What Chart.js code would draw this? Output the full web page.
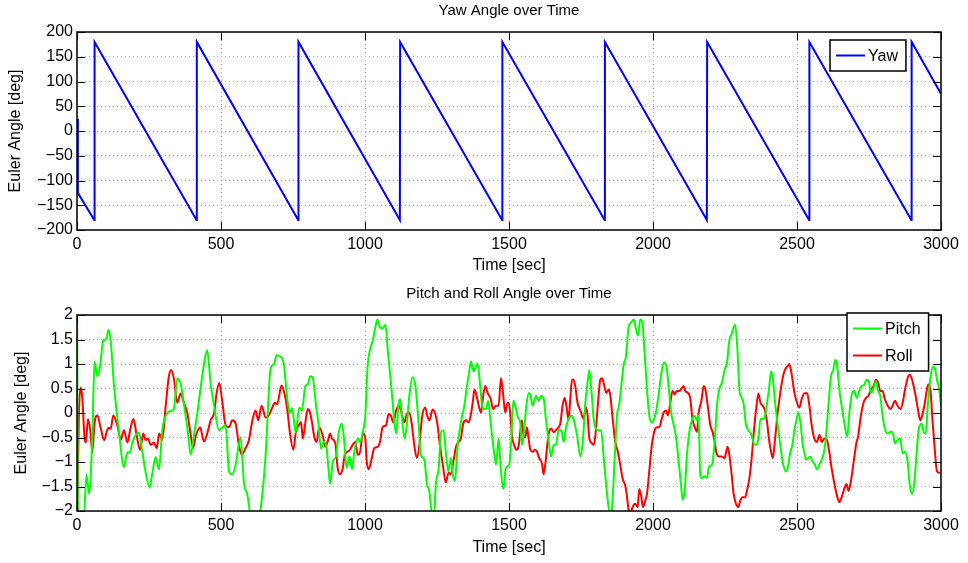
<!DOCTYPE html>
<html>
<head>
<meta charset="utf-8">
<script src="https://cdn.jsdelivr.net/npm/chart.js@4.4.1/dist/chart.umd.min.js"></script>
<style>
  html, body { margin: 0; padding: 0; background: #fff; }
  canvas { display: block; }
</style>
</head>
<body>
<canvas id="yawChart" width="968" height="282"></canvas>
<canvas id="attChart" width="968" height="281"></canvas>
<script>
// ---- data ----
const yawTime = [0, 3, 60, 61, 415, 416, 768, 769, 1121, 1122, 1476, 1477,
  1832, 1833, 2187, 2188, 2542, 2543, 2897, 2898, 3000];
const yawValue = [25, -125, -180, 180, -180, 180, -180, 180, -180, 180, -180, 180,
  -180, 180, -180, 180, -180, 180, -180, 180, 75];

const pitchTime = [
  0, 4, 13, 24, 33, 42, 53, 61, 71, 80,
  91, 100, 110, 117, 128, 146, 163, 175, 184, 192,
  204, 215, 227, 238, 252, 261, 273, 285, 296, 314,
  331, 337, 348, 360, 371, 383, 395, 406, 418, 429,
  441, 452, 464, 476, 493, 504, 516, 528, 539, 551,
  568, 580, 591, 600, 620, 637, 655, 672, 684, 693,
  707, 718, 730, 739, 747, 759,
  772, 781, 793, 801, 810, 818, 830, 839, 847, 857,
  865, 874, 879, 888, 899, 909, 920, 928, 936, 946,
  955, 963, 975, 983, 992, 1001, 1009, 1017, 1027, 1036,
  1043, 1052, 1061, 1071, 1079, 1088, 1096, 1108, 1117, 1123,
  1128, 1137, 1145, 1154, 1165, 1175, 1186, 1194, 1206, 1215,
  1223, 1233, 1240, 1246, 1256, 1264, 1273, 1281, 1289, 1299,
  1304, 1312, 1322, 1333, 1345, 1354, 1362, 1368, 1377, 1385,
  1391, 1399, 1408, 1420, 1428, 1437, 1445, 1455, 1464, 1472,
  1481, 1489, 1501,
  1508, 1515, 1522, 1531, 1539, 1545, 1551, 1559, 1568, 1574,
  1582, 1594, 1603, 1612, 1620, 1628, 1638, 1646, 1655, 1663,
  1672, 1682, 1690, 1698, 1707, 1716, 1724, 1736, 1748, 1756,
  1765, 1774, 1779, 1786, 1794, 1802, 1811, 1820, 1829, 1837,
  1846, 1852, 1858, 1867, 1875, 1883, 1892, 1899, 1906, 1915,
  1925, 1933, 1941, 1948, 1956, 1962, 1971, 1979, 1987, 1994,
  2002, 2010, 2019, 2029, 2038, 2047, 2054, 2063, 2072, 2080,
  2089, 2097, 2103, 2110, 2118, 2126, 2135, 2144, 2153, 2158,
  2164, 2170, 2179, 2187, 2195, 2205, 2214, 2222, 2230, 2239,
  2249, 2257,
  2265, 2273, 2280, 2285, 2292, 2300, 2308, 2315, 2323, 2331,
  2340, 2350, 2358, 2366, 2373, 2381, 2389, 2396, 2404, 2410,
  2416, 2424, 2433, 2442, 2450, 2462, 2468, 2476, 2484, 2491,
  2498, 2505, 2512, 2520, 2525, 2531, 2539, 2546, 2554, 2562,
  2569, 2578, 2586, 2593, 2601, 2609, 2618, 2626, 2633, 2639,
  2647, 2655, 2664, 2674, 2682, 2690, 2699, 2707, 2716, 2724,
  2734, 2741, 2748, 2757, 2766, 2774, 2782, 2789, 2797, 2805,
  2815, 2824, 2832, 2840, 2849, 2858, 2867, 2875, 2884, 2892,
  2900, 2907, 2915, 2923, 2933, 2940, 2947, 2954, 2962, 2971,
  2979, 2986, 2994, 3000
];
const pitchValue = [
  2.6, -2.3, -2.1, -2.1, -1.25, -1.65, -0.5, 1.05, 0.75, 0.95,
  1.48, 1.5, 1.7, 1.48, 0.6, -0.4, -1.1, -0.8, -0.8, -0.6,
  -0.45, -0.4, -0.8, -1.2, -1.52, -1.25, -0.9, -1.15, -0.35, 0,
  0.05, 0.1, 0.7, 0.6, 0.2, -0.3, -0.85, -0.45, 0, 0.5,
  1.0, 1.28, 0.6, 0.15, -0.35, -0.3, -0.25, -1.2, -1.25, -1.05,
  -0.5, -1.45, -1.65, -2.0, -2.5, -2.0, -0.85, 0.9, 1.0, 1.18,
  1.15, 1.0, 0.3, 0, 0.1, -0.4,
  0.11, 0.05, 0.55, 0.58, 0.75, 0.73, 0.15, -0.25, -0.72, -0.59,
  -0.65, -1.19, -1.45, -0.99, -0.89, -0.39, -0.22, -0.59, -1.12, -0.89,
  -1.15, -0.79, -0.52, -0.59, -0.39, -0.05, 0.95, 1.28, 1.48, 1.75,
  1.91, 1.75, 1.73, 1.8, 1.28, 0.75, 0.21, -0.42, 0.21, 0.28,
  -0.05, -0.52, -0.25, 0.35, 0.73, 0.55, -0.19, -0.85, -0.95, -1.45,
  -1.59, -2.05, -2.05, -1.45, -1.12, -0.39, -0.35, -0.82, -1.19, -0.92,
  -1.22, -1.39, -0.65, -0.19, 0.15, 0.55, 0.85, 1.05, 0.85, 0.95,
  1.01, 0.61, 0.11, 0.08, 0.25, -0.25, -0.65, -1.05, -0.52, -1.19,
  -1.55, -1.12, -1.05,
  -0.52, 0.25, 0.15, -0.09, -0.19, -0.65, -0.45, 0.08, 0.41, 0.38,
  0.15, 0.35, 0.25, 0.35, 0.31, -0.12, -0.59, -0.89, -0.65, -0.65,
  -0.35, -0.35, -0.59, -0.29, -0.12, -0.05, -0.12, -0.45, -0.89, -0.59,
  0.21, 0.68, 0.88, 0.48, -0.12, -0.32, -0.35, -0.35, -0.92, -1.45,
  -1.92, -2.1, -1.92, -0.92, -0.05, 0.18, 0.68, 1.01, 1.15, 1.75,
  1.85, 1.91, 1.71, 1.58, 1.91, 1.88, 1.21, 0.48, -0.05, -0.19,
  -0.15, 0.01, 0.35, 0.81, 1.03, 0.95, 0.55, 0.01, -0.25, -0.49,
  -0.99, -1.45, -1.77, -1.59, -0.85, -0.39, -0.15, -0.05, -0.15, -0.05,
  -1.25, -1.33, -1.29, -1.32, -1.09, -1.05, -0.59, 0.15, 0.48, 0.61,
  0.88, 1.03,
  1.48, 1.61, 1.75, 1.8, 1.41, 0.48, 0.31, 0.18, -0.25, -0.35,
  -0.42, -0.62, -0.65, -0.52, -0.12, -0.12, -0.05, 0.21, 0.55, 0.85,
  0.71, 0.21, -0.25, -0.65, -0.99, -1.19, -1.12, -0.82, -0.65, -0.35,
  -0.15, 0.01, -0.19, -0.65, -0.79, -0.95, -0.92, -0.89, -0.99, -1.05,
  -1.15, -1.05, -0.95, -0.82, -0.45, 0.15, 0.75, 0.88, 1.08, 1.01,
  0.48, 0.15, -0.19, -0.49, 0.01, 0.38, 0.45, 0.31, 0.45, 0.55,
  0.58, 0.68, 0.67, 0.41, 0.51, 0.65, 0.45, 0.35, -0.05, -0.32,
  -0.42, -0.39, -0.39, -0.62, -0.55, -0.52, -0.82, -0.79, -0.99, -1.49,
  -1.65, -1.45, -0.85, -0.32, -0.22, -0.39, -0.42, 0.15, 0.65, 0.95,
  0.91, 0.68, 0.48, 0.15
];

const rollTime = [
  0, 6, 12, 18, 27, 31, 38, 47, 53, 61,
  71, 82, 94, 105, 111, 117, 126, 140, 152, 163,
  175, 186, 196, 207, 219, 230, 238, 246, 256, 267,
  277, 285, 296, 308, 319, 327, 337, 348, 360, 371,
  383, 395, 403, 412, 427, 441, 452, 464, 476, 485,
  494, 504, 516, 528, 539, 551, 562, 572, 585, 597,
  609, 620, 629, 641, 655, 666, 678, 687, 695, 710,
  721, 730, 739, 751,
  760, 770, 778, 784, 793, 801, 809, 816, 824, 832,
  841, 853, 862, 870, 879, 885, 897, 905, 913, 922,
  930, 939, 948, 957, 966, 975, 983, 990, 994, 1001,
  1006, 1013, 1021, 1032, 1044, 1052, 1061, 1073, 1082, 1090,
  1098, 1108, 1117, 1125, 1137, 1145, 1154, 1163, 1171, 1180,
  1189, 1198, 1209, 1216, 1223, 1235, 1244, 1252, 1260, 1270,
  1281, 1290, 1298, 1307, 1316, 1325, 1333, 1341, 1351, 1360,
  1368, 1374, 1380, 1385, 1395, 1403, 1411, 1418, 1426, 1437,
  1445, 1455, 1464, 1472, 1478, 1487, 1493, 1499,
  1505, 1510, 1520, 1528, 1534, 1539, 1545, 1551, 1557, 1562,
  1568, 1574, 1582, 1591, 1597, 1605, 1615, 1620, 1626, 1634,
  1641, 1647, 1655, 1663, 1672, 1678, 1686, 1693, 1701, 1707,
  1713, 1719, 1724, 1730, 1738, 1748, 1759, 1767, 1773, 1779,
  1788, 1794, 1800, 1809, 1817, 1823, 1831, 1838, 1846, 1852,
  1860, 1869, 1878, 1886, 1895, 1904, 1910, 1915, 1921, 1929,
  1938, 1947, 1952, 1959, 1965, 1973, 1979, 1987, 1996, 2006,
  2014, 2022, 2029, 2037, 2045, 2052, 2060, 2068, 2075, 2083,
  2091, 2100, 2106, 2112, 2121, 2129, 2137, 2147, 2153, 2158,
  2168, 2176, 2181, 2190, 2199, 2207, 2214, 2222, 2230, 2239,
  2249,
  2254, 2259, 2265, 2273, 2280, 2288, 2296, 2303, 2311, 2320,
  2326, 2335, 2343, 2350, 2358, 2366, 2373, 2381, 2389, 2396,
  2404, 2410, 2416, 2424, 2433, 2442, 2450, 2458, 2468, 2473,
  2481, 2491, 2500, 2508, 2516, 2525, 2535, 2543, 2551, 2560,
  2569, 2578, 2586, 2595, 2604, 2612, 2620, 2630, 2639, 2647,
  2655, 2664, 2672, 2679, 2687, 2697, 2705, 2713, 2722, 2731,
  2740, 2748, 2757, 2766, 2774, 2782, 2789, 2797, 2805, 2815,
  2824, 2832, 2840, 2849, 2859, 2867, 2875, 2884, 2892, 2901,
  2910, 2919, 2928, 2936, 2944, 2951, 2956, 2963, 2971, 2979,
  2986, 2994, 3000
];
const rollValue = [
  -2.5, -0.2, 0.52, 0.35, -0.55, -0.6, -0.12, -0.4, -0.8, -0.2,
  -0.05, -0.3, -0.55, -0.35, -0.3, -0.32, -0.05, -0.25, -0.55, -0.35,
  -0.6, -0.3, -0.12, -0.45, -0.75, -0.42, -0.55, -0.52, -0.65, -0.6,
  -0.72, -0.42, -0.55, 0.15, 0.75, 0.88, 0.68, 0.21, 0.4, 0.21,
  0, -0.45, -0.72, -0.48, -0.29, -0.58, -0.42, -0.15, 0, 0.41,
  0.61, 0.25, -0.25, -0.29, -0.15, -0.22, -0.65, -0.85, -0.72, -0.55,
  -0.15, 0.05, -0.15, 0.15, -0.09, -0.05, 0.11, 0.21, 0.18, 0.56,
  0.38, 0.08, -0.39, -0.75,
  -0.39, -0.25, -0.19, -0.52, -0.19, 0.08, 0.01, -0.19, -0.49, -0.59,
  -0.29, -0.45, -0.69, -0.59, -0.42, -0.52, -0.62, -1.12, -1.25, -1.15,
  -0.85, -0.79, -0.75, -0.65, -0.59, -0.85, -0.79, -0.49, -0.42, -0.52,
  -0.99, -1.15, -0.99, -0.72, -0.69, -0.59, -0.29, -0.25, -0.02, -0.05,
  -0.19, 0.05, 0.15, 0.05, -0.19, -0.02, 0.01, -0.25, -0.65, -0.92,
  -0.65, -0.09, 0.11, -0.05, -0.15, 0.07, -0.02, -0.25, -0.65, -1.05,
  -1.42, -1.22, -1.25, -0.99, -0.69, -0.59, -0.52, -0.22, -0.15, -0.19,
  -0.02, 0.21, 0.48, 0.41, 0.15, 0.01, 0.38, 0.55, 0.41, 0.28,
  0.08, 0.15, 0.15, 0.71, 0.48, 0.01, 0.18, 0.21,
  -0.05, -0.45, -0.69, -0.75, -0.65, -0.39, -0.15, -0.49, -0.49, -0.29,
  -0.52, -0.75, -0.79, -0.75, -0.79, -0.92, -1.05, -1.25, -1.05, -0.59,
  -0.35, -0.32, -0.39, -0.35, -0.29, -0.22, 0.15, 0.31, 0.08, -0.15,
  0.31, 0.68, 0.68, 0.55, 0.21, 0.05, -0.12, 0.11, -0.05, -0.52,
  -0.62, -0.65, -0.45, 0.21, 0.68, 0.71, 0.55, 0.41, 0.48, 0.35,
  -0.12, -0.59, -0.79, -1.05, -1.35, -1.49, -1.72, -1.97, -2.05, -1.92,
  -1.85, -1.92, -1.55, -1.69, -1.92, -1.79, -1.65, -1.19, -0.65, -0.35,
  -0.29, -0.29, -0.15, 0.01, 0.05, -0.05, 0.21, 0.45, 0.38, 0.45,
  0.45, 0.51, 0.55, 0.45, 0.41, 0.31, -0.12, -0.32, -0.39, -0.02,
  0.25, 0.55, 0.51, 0.15, -0.25, -0.39, -0.59, -0.85, -0.89, -0.89,
  -0.92,
  -0.79, -0.69, -0.85, -1.25, -1.65, -1.85, -1.92, -1.79, -1.72, -1.72,
  -1.59, -1.32, -0.89, -0.39, 0.08, 0.4, 0.21, 0.15, 0.05, -0.19,
  -0.59, -0.79, -0.92, -0.52, 0.01, 0.41, 0.71, 0.88, 0.96, 1.0,
  0.81, 0.41, 0.21, 0.11, 0.28, 0.4, 0.41, 0.15, -0.25, -0.52,
  -0.59, -0.45, -0.59, -0.52, -0.55, -0.79, -1.12, -1.45, -1.69, -1.82,
  -1.72, -1.55, -1.45, -1.59, -1.39, -0.99, -0.65, -0.45, -0.05, 0.21,
  0.31, 0.35, 0.48, 0.55, 0.68, 0.61, 0.45, 0.45, 0.28, 0.15,
  0.08, 0.15, 0.25, 0.15, 0.08, 0.21, 0.48, 0.71, 0.78, 0.65,
  0.41, 0.11, -0.15, -0.02, 0.21, 0.48, 0.58, 0.48, -0.19, -0.79,
  -1.19, -1.22, -1.22
];

const timeTicks = { min: 0, max: 3000, step: 500 };
const yawTicks = { min: -200, max: 200, step: 50 };
const attTicks = { min: -2, max: 2, step: 0.5 };

Chart.defaults.font.family = "'Liberation Sans', Arial, Helvetica, sans-serif";
Chart.defaults.color = "#000";

const toPoints = (xs, ys) => xs.map((x, i) => ({ x: x, y: ys[i] }));
const minusSign = (v) => String(v).replace("-", "\u2212");

// matlab style frame: black box, inward ticks, boxed legend
const matlabFrame = {
  id: "matlabFrame",
  afterDatasetsDraw(chart, args, opts) {
    const { ctx, chartArea: a, scales } = chart;
    const tick = 8;
    ctx.save();
    ctx.strokeStyle = "#000";
    ctx.lineWidth = 1;
    ctx.beginPath();
    scales.x.ticks.forEach((t) => {
      const px = Math.round(scales.x.getPixelForValue(t.value)) + 0.5;
      ctx.moveTo(px, a.bottom);
      ctx.lineTo(px, a.bottom - tick);
      ctx.moveTo(px, a.top);
      ctx.lineTo(px, a.top + tick);
    });
    scales.y.ticks.forEach((t) => {
      const py = Math.round(scales.y.getPixelForValue(t.value)) + 0.5;
      ctx.moveTo(a.left, py);
      ctx.lineTo(a.left + tick, py);
      ctx.moveTo(a.right, py);
      ctx.lineTo(a.right - tick, py);
    });
    ctx.stroke();
    ctx.lineWidth = 1.5;
    ctx.strokeRect(Math.round(a.left), Math.round(a.top), Math.round(a.right - a.left), Math.round(a.bottom - a.top));

    // legend
    const sets = chart.data.datasets;
    ctx.font = "16px 'Liberation Sans', Arial, sans-serif";
    const textW = Math.max(...sets.map((d) => ctx.measureText(d.label).width));
    const rowH = 27;
    const w = 6 + 29 + 3 + textW + 8;
    const h = 4 + sets.length * rowH;
    const bx = Math.round(a.right - opts.right - w);
    const by = Math.round(a.top + opts.top);
    ctx.fillStyle = "#fff";
    ctx.fillRect(bx, by, w, h);
    ctx.lineWidth = 1.5;
    ctx.strokeStyle = "#000";
    ctx.strokeRect(bx, by, w, h);
    sets.forEach((d, i) => {
      const cy = by + 2 + rowH / 2 + i * rowH;
      ctx.strokeStyle = d.borderColor;
      ctx.lineWidth = 2;
      ctx.beginPath();
      ctx.moveTo(bx + 6, cy);
      ctx.lineTo(bx + 35, cy);
      ctx.stroke();
      ctx.fillStyle = "#000";
      ctx.textBaseline = "middle";
      ctx.fillText(d.label, bx + 38, cy + 1);
    });
    ctx.restore();
  },
};

function panelOptions(title, ticks, titleGap, xTitlePad, yTitlePad, legendPos) {
  return {
    responsive: false,
    animation: false,
    layout: { padding: { left: 0, right: 27, top: 0, bottom: 0 } },
    scales: {
      x: {
        type: "linear",
        min: timeTicks.min,
        max: timeTicks.max,
        afterFit: (s) => { s.height = 52; s.paddingRight = 0; s.paddingLeft = 0; },
        ticks: { stepSize: timeTicks.step, padding: 5, maxRotation: 0, font: { size: 16 }, callback: (v) => String(v) },
        grid: { color: "#b4b4b4", drawTicks: false },
        border: { display: false, dash: [1, 3] },
        title: { display: true, text: "Time [sec]", font: { size: 16 }, padding: { top: 0, bottom: xTitlePad } },
      },
      y: {
        min: ticks.min,
        max: ticks.max,
        afterFit: (s) => { s.width = 77; s.paddingTop = 0; s.paddingBottom = 0; },
        ticks: { stepSize: ticks.step, padding: 4, font: { size: 16 }, callback: minusSign },
        grid: { color: "#b4b4b4", drawTicks: false },
        border: { display: false, dash: [1, 3] },
        title: { display: true, text: "Euler Angle [deg]", font: { size: 16 }, padding: { top: yTitlePad, bottom: 0 } },
      },
    },
    plugins: {
      legend: { display: false },
      tooltip: { enabled: false },
      title: {
        display: true,
        text: title,
        fullSize: false,
        font: { size: 15, weight: "normal" },
        padding: { top: titleGap[0], bottom: titleGap[1] },
      },
      matlabFrame: legendPos,
    },
  };
}

new Chart(document.getElementById("yawChart"), {
  type: "line",
  data: {
    datasets: [
      {
        label: "Yaw",
        data: toPoints(yawTime, yawValue),
        borderColor: "#0000ff",
        borderWidth: 2,
        pointRadius: 0,
        tension: 0,
      },
    ],
  },
  options: panelOptions("Yaw Angle over Time", yawTicks, [2, 12], 7, 6, { right: 35, top: 8 }),
  plugins: [matlabFrame],
});

new Chart(document.getElementById("attChart"), {
  type: "line",
  data: {
    datasets: [
      {
        label: "Pitch",
        data: toPoints(pitchTime, pitchValue),
        borderColor: "#00ff00",
        borderWidth: 2,
        pointRadius: 0,
        cubicInterpolationMode: "monotone",
        clip: 0,
      },
      {
        label: "Roll",
        data: toPoints(rollTime, rollValue),
        borderColor: "#ff0000",
        borderWidth: 2,
        pointRadius: 0,
        cubicInterpolationMode: "monotone",
        clip: 0,
      },
    ],
  },
  options: panelOptions("Pitch and Roll Angle over Time", attTicks, [3, 12], 6, 12, { right: 12, top: -2 }),
  plugins: [matlabFrame],
});
</script>
</body>
</html>
